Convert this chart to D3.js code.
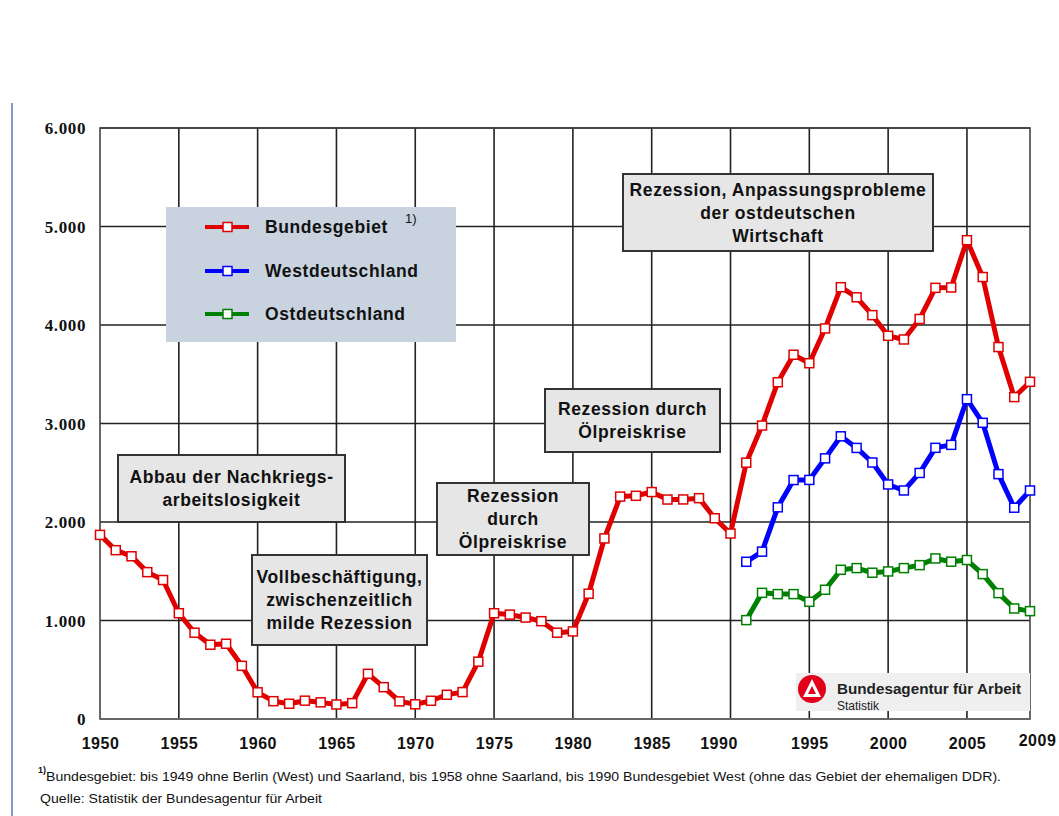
<!DOCTYPE html>
<html><head><meta charset="utf-8">
<script src="https://cdn.jsdelivr.net/npm/d3@7"></script>
<style>
html,body{margin:0;padding:0;background:#fff;}
svg{display:block;}
.xlab{font-family:"Liberation Sans",Arial,sans-serif;font-weight:bold;font-size:16px;letter-spacing:0.5px;}
.big{font-family:"Liberation Sans",Arial,sans-serif;font-weight:bold;font-size:17.5px;letter-spacing:0.6px;}
</style></head>
<body>
<svg id="chart" width="1059" height="816"></svg>
<script>
// ---------- data ----------
const yearsBund = [1950,1951,1952,1953,1954,1955,1956,1957,1958,1959,1960,1961,1962,1963,1964,1965,1966,1967,1968,1969,1970,1971,1972,1973,1974,1975,1976,1977,1978,1979,1980,1981,1982,1983,1984,1985,1986,1987,1988,1989,1990,1991,1992,1993,1994,1995,1996,1997,1998,1999,2000,2001,2002,2003,2004,2005,2006,2007,2008,2009];
const bundesgebiet = [1869,1714,1652,1491,1411,1074,876,754,764,540,271,181,155,186,169,147,161,459,323,179,149,185,246,273,582,1074,1060,1030,993,876,889,1272,1833,2258,2266,2304,2228,2229,2242,2038,1883,2602,2979,3419,3698,3612,3965,4384,4281,4100,3890,3853,4061,4377,4381,4861,4487,3776,3268,3423];
const yearsWO = [1991,1992,1993,1994,1995,1996,1997,1998,1999,2000,2001,2002,2003,2004,2005,2006,2007,2008,2009];
const westdeutschland = [1596,1699,2149,2426,2427,2646,2870,2752,2604,2381,2320,2498,2753,2783,3247,3007,2486,2145,2320];
const ostdeutschland = [1004,1281,1268,1268,1190,1312,1515,1532,1485,1498,1532,1562,1630,1597,1614,1471,1278,1122,1095];
const yTicks = [0,1000,2000,3000,4000,5000,6000];
const yTickLabels = ["0","1.000","2.000","3.000","4.000","5.000","6.000"];
const xTicks = [1950,1955,1960,1965,1970,1975,1980,1985,1990,1995,2000,2005,2009];
const xGrid = [1955,1960,1965,1970,1975,1980,1985,1990,1995,2000,2005];
const seriesNames = ["Bundesgebiet","Westdeutschland","Ostdeutschland"];
const seriesColors = ["#e00000","#0000ff","#008000"];
const annotations = [
  {lines:["Abbau der Nachkriegs-","arbeitslosigkeit"], box:[118,455,345,522]},
  {lines:["Vollbeschäftigung,","zwischenzeitlich","milde Rezession"], box:[252,555,427,645]},
  {lines:["Rezession","durch","Ölpreiskrise"], box:[437,483,589,555]},
  {lines:["Rezession durch","Ölpreiskrise"], box:[545,389,720,452]},
  {lines:["Rezession, Anpassungsprobleme","der ostdeutschen","Wirtschaft"], box:[623,174,933,251]}
];
const footnote = "Bundesgebiet: bis 1949 ohne Berlin (West) und Saarland, bis 1958 ohne Saarland, bis 1990 Bundesgebiet West (ohne das Gebiet der ehemaligen DDR).";
const source = "Quelle: Statistik der Bundesagentur für Arbeit";

// ---------- layout ----------
const svg = d3.select("#chart");
const L = 100, R = 1030, T = 128, B = 719;
const x = d3.scaleLinear().domain([1950, 2009]).range([L, R]);
const y = d3.scaleLinear().domain([0, 6000]).range([B, T]);

svg.append("line").attr("x1",12).attr("x2",12).attr("y1",103).attr("y2",816)
  .attr("stroke","#7f9cc4").attr("stroke-width",2);

// grid
const grid = svg.append("g").attr("stroke","#222").attr("stroke-width",1.6);
grid.selectAll("line.h").data(yTicks).join("line").attr("class","h")
  .attr("x1",L).attr("x2",R).attr("y1",d=>y(d)).attr("y2",d=>y(d));
grid.selectAll("line.v").data(xGrid).join("line").attr("class","v")
  .attr("x1",d=>x(d)).attr("x2",d=>x(d)).attr("y1",T).attr("y2",B);
svg.append("rect").attr("x",L).attr("y",T).attr("width",R-L).attr("height",B-T)
  .attr("fill","none").attr("stroke","#444").attr("stroke-width",1.6);
svg.append("line").attr("x1",L).attr("x2",R).attr("y1",B).attr("y2",B)
  .attr("stroke","#666").attr("stroke-width",2);

// y axis labels
const yAxis = d3.axisLeft(y).tickValues(yTicks).tickFormat((d,i)=>yTickLabels[i]).tickSize(0).tickPadding(14);
const gy = svg.append("g").attr("transform",`translate(${L},0)`).call(yAxis);
gy.select(".domain").remove();
gy.attr("font-family",null).attr("font-size",null);
gy.selectAll("text")
  .style("font-family","'Liberation Serif', 'DejaVu Serif', serif")
  .style("font-weight","bold").style("font-size","17px").style("letter-spacing","0.6px")
  .attr("fill","#111").attr("dy","0.35em");

// x axis labels
const xAxis = d3.axisBottom(x).tickValues(xTicks).tickFormat(d3.format("d")).tickSize(0).tickPadding(19);
const gx = svg.append("g").attr("transform",`translate(0,${B})`).call(xAxis);
gx.select(".domain").remove();
gx.attr("font-family",null).attr("font-size",null);
gx.selectAll("text").attr("class","xlab").attr("fill","#111")
  .attr("transform",d=> d===1990 ? "translate(-12,0)" : d===2009 ? "translate(7,-3)" : null);

// annotations
const ann = svg.append("g");
annotations.forEach(a=>{
  const [x0,y0,x1,y1] = a.box;
  ann.append("rect").attr("x",x0).attr("y",y0).attr("width",x1-x0).attr("height",y1-y0)
    .attr("fill","#e6e6e6").attr("stroke","#333").attr("stroke-width",2);
  const n = a.lines.length, lh = 23;
  const cy = (y0+y1)/2;
  a.lines.forEach((t,i)=>{
    ann.append("text").attr("class","big").attr("x",(x0+x1)/2).attr("y",cy + (i-(n-1)/2)*lh)
      .attr("dy","0.36em").attr("text-anchor","middle").attr("fill","#111").text(t);
  });
});

// lines
const line = d3.line().x(d=>x(d[0])).y(d=>y(d[1]));
const series = [
  d3.zip(yearsBund, bundesgebiet),
  d3.zip(yearsWO, westdeutschland),
  d3.zip(yearsWO, ostdeutschland)
];
series.forEach((s,i)=>{
  const g = svg.append("g");
  g.append("path").datum(s).attr("d",line).attr("fill","none")
    .attr("stroke",seriesColors[i]).attr("stroke-width",5).attr("stroke-linejoin","round");
  g.selectAll("rect").data(s).join("rect")
    .attr("x",d=>x(d[0])-4.5).attr("y",d=>y(d[1])-4.5).attr("width",9).attr("height",9)
    .attr("fill","#fff").attr("stroke",seriesColors[i]).attr("stroke-width",1.5);
});

// legend
const lg = svg.append("g");
lg.append("rect").attr("x",166).attr("y",207).attr("width",290).attr("height",135).attr("fill","#c8d3df");
const legY = [227,271,314];
seriesNames.forEach((n,i)=>{
  lg.append("line").attr("x1",205).attr("x2",249).attr("y1",legY[i]).attr("y2",legY[i])
    .attr("stroke",seriesColors[i]).attr("stroke-width",4);
  lg.append("rect").attr("x",223).attr("y",legY[i]-4.5).attr("width",9).attr("height",9)
    .attr("fill","#fff").attr("stroke",seriesColors[i]).attr("stroke-width",1.5);
  lg.append("text").attr("class","big").attr("x",265).attr("y",legY[i]).attr("dy","0.36em")
    .attr("fill","#111").text(n);
});
lg.append("text").attr("x",405).attr("y",223).attr("font-family","'Liberation Sans', Arial, sans-serif")
  .attr("font-size",13).attr("fill","#111").text("1)");

// logo
const lo = svg.append("g");
lo.append("rect").attr("x",796).attr("y",673).attr("width",234).attr("height",38).attr("fill","#efefef");
lo.append("circle").attr("cx",812).attr("cy",689).attr("r",14).attr("fill","#e2001a");
lo.append("path").attr("d","M803,697 L812,679 L821,697 Z M808,694 L812,686 L816,694 Z")
  .attr("fill","#fff").attr("fill-rule","evenodd");
lo.append("text").attr("x",837).attr("y",694).attr("font-family","'Liberation Sans', Arial, sans-serif")
  .attr("font-weight","bold").attr("font-size",15).attr("fill","#222")
  .attr("textLength",184).attr("lengthAdjust","spacingAndGlyphs").text("Bundesagentur für Arbeit");
lo.append("text").attr("x",837).attr("y",710).attr("font-family","'Liberation Sans', Arial, sans-serif")
  .attr("font-size",12).attr("fill","#222").text("Statistik");

// footer
const ff = "'Liberation Sans Narrow', 'Arial Narrow', 'Liberation Sans', sans-serif";
svg.append("text").attr("x",38).attr("y",773).attr("font-family",ff).attr("font-size",9).attr("font-weight","bold").attr("fill","#111").text("1)");
svg.append("text").attr("x",46).attr("y",781).attr("font-family",ff).attr("font-size",13)
  .attr("fill","#111").attr("textLength",955).attr("lengthAdjust","spacingAndGlyphs").text(footnote);
svg.append("text").attr("x",40).attr("y",803).attr("font-family",ff).attr("font-size",13)
  .attr("fill","#111").attr("textLength",282).attr("lengthAdjust","spacingAndGlyphs").text(source);
</script>
</body></html>
